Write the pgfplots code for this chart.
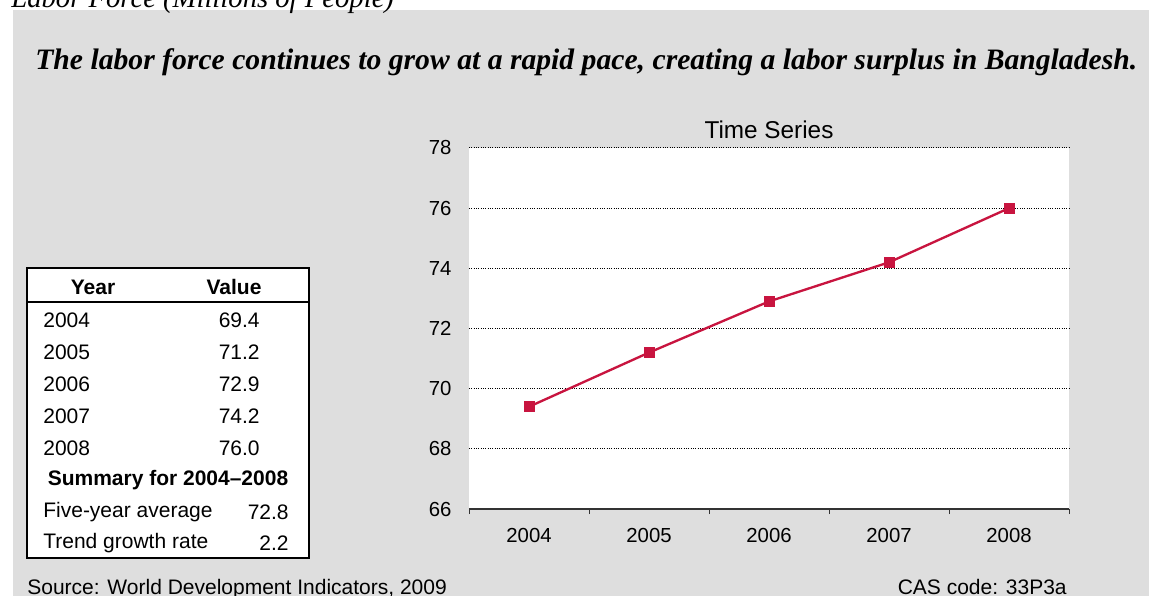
\documentclass[border=0pt]{standalone}
\usepackage{pgfplots}
\pgfplotsset{compat=1.18}
\usepackage{fontspec}
\setmainfont{Liberation Serif}
\newfontfamily\arial{Liberation Sans}
\definecolor{panel}{HTML}{DEDEDE}
\definecolor{series}{HTML}{C8143F}
\newcommand\tabfont{\arial\fontsize{12.6}{14}\selectfont}

\pgfplotstableread{
idx year value
1 2004 69.4
2 2005 71.2
3 2006 72.9
4 2007 74.2
5 2008 76.0
}\laborforce

\begin{document}
\begin{tikzpicture}
% page frame: 1149 x 596 units of 0.6pt
\useasboundingbox (0,0) rectangle (689.4pt,-357.6pt);
\clip (0,0) rectangle (689.4pt,-357.6pt);

\begin{scope}[x=0.6pt,y=-0.6pt]
  \fill[white] (0,0) rectangle (1149,596);
  \fill[panel] (13,10) rectangle (1149,596);
  \node[anchor=base west,font=\itshape\fontsize{17.2}{19}\selectfont,inner sep=0]
    at (11,8) {Labor Force (Millions of People)};
  \node[anchor=base west,font=\bfseries\itshape\fontsize{17.8}{20}\selectfont,inner sep=0]
    at (35,70) {The labor force continues to grow at a rapid pace, creating a labor surplus in Bangladesh.};
\end{scope}

\begin{axis}[
  at={(281.4pt,-305.4pt)}, anchor=south west,
  scale only axis, width=360pt, height=216.6pt,
  axis background/.style={fill=white},
  xmin=0.5, xmax=5.5, ymin=66, ymax=78,
  ytick={66,68,...,78},
  xtick={0.5,1.5,...,5.5},
  x tick label as interval,
  xticklabels={2004,2005,2006,2007,2008},
  axis x line*=bottom, axis y line*=left,
  x axis line style={draw=black!80, line width=0.8pt, -},
  y axis line style={draw=none},
  ytick style={draw=none},
  xtick style={draw=black!80, line width=0.6pt},
  tick align=outside, major tick length=3pt,
  ymajorgrids,
  major grid style={black, densely dotted, line width=0.6pt},
  ticklabel style={font=\arial\fontsize{12.2}{14}\selectfont},
  /pgf/number format/assume math mode=true,
  yticklabel style={xshift=-4pt},
  xticklabel style={yshift=-5pt},
  title={Time Series},
  title style={font=\arial\fontsize{14.6}{16}\selectfont, yshift=-4pt},
  clip=false,
]
\addplot[series, line width=1.4pt, mark=square*, mark size=2.6pt,
  mark options={fill=series, draw=series}]
  table[x=idx, y=value] {\laborforce};
\end{axis}

\begin{scope}[x=0.6pt,y=-0.6pt, font=\tabfont]
  \filldraw[fill=white, draw=black, line width=1pt] (27,268) rectangle (309,558);
  \draw[line width=1pt] (27,302) -- (309,302);
  \node[font=\tabfont\bfseries] at (93,287) {Year};
  \node[font=\tabfont\bfseries] at (234,287) {Value};
  \foreach \yr/\val/\yy in {2004/69.4/320, 2005/71.2/352, 2006/72.9/384, 2007/74.2/416, 2008/76.0/448} {
    \node[anchor=west, inner sep=0] at (43,\yy) {\yr};
    \node[anchor=east, inner sep=0] at (260,\yy) {\val};
  }
  \node[font=\tabfont\bfseries] at (168,480) {Summary for 2004\textendash 2008};
  \node[anchor=west, inner sep=0] at (43,512) {Five-year average};
  \node[anchor=east, inner sep=0] at (289,512) {72.8};
  \node[anchor=west, inner sep=0] at (43,543) {Trend growth rate};
  \node[anchor=east, inner sep=0] at (289,543) {2.2};

  \node[anchor=base west, inner sep=0] at (27,594) {Source: World Development Indicators, 2009};
  \node[anchor=base east, inner sep=0] at (1067,594) {CAS code: 33P3a};
\end{scope}
\end{tikzpicture}
\end{document}
